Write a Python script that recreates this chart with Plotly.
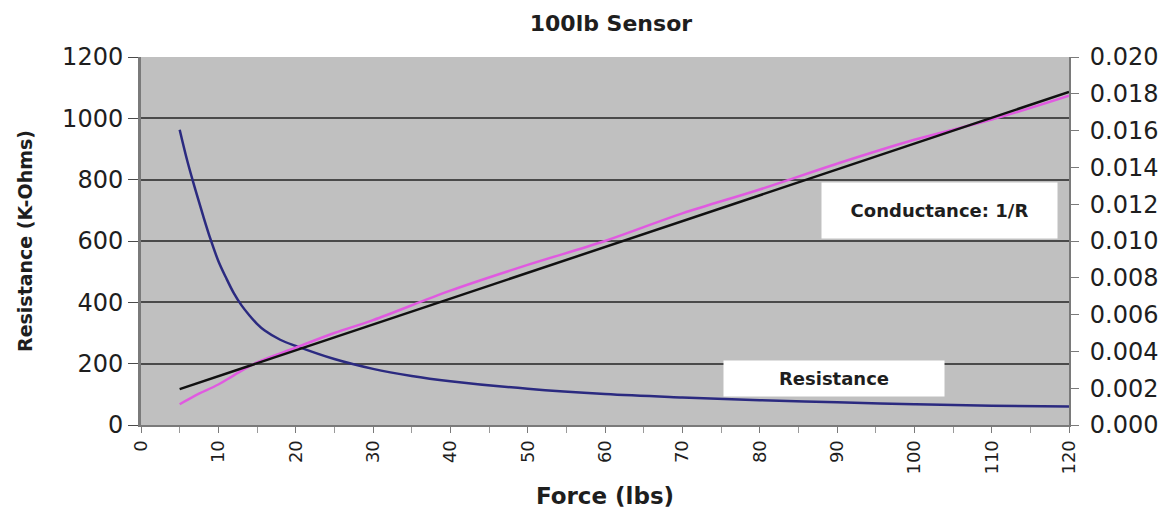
import plotly.graph_objects as go

# Resistance curve (K-Ohms) vs force (lbs)
force_r = [5, 6, 7, 8, 9, 10, 11, 12, 13, 14, 15, 16, 18, 20, 25, 30, 35, 40, 50, 60, 70, 80, 90, 100, 110, 120]
resistance = [963, 860, 770, 685, 605, 535, 480, 430, 390, 358, 330, 308, 278, 258, 215, 183, 160, 143, 118, 101,
              90, 81, 74, 68, 63, 60]

# Conductance (1/R) measured
force_g = [5, 7, 10, 12, 15, 20, 25, 30, 40, 50, 60, 70, 80, 90, 100, 110, 120]
conductance = [0.00113, 0.0016, 0.0022, 0.0027, 0.0034, 0.0042, 0.0050, 0.0057, 0.0073, 0.0087,
               0.0100, 0.0115, 0.0128, 0.0142, 0.0155, 0.0166, 0.0179]

# Linear fit of conductance
fit_force = [5, 120]
fit_conductance = [0.00195, 0.0181]

x_ticks = list(range(0, 121, 10))
y_left_ticks = list(range(0, 1201, 200))
y_right_ticks = [0.000, 0.002, 0.004, 0.006, 0.008, 0.010, 0.012, 0.014, 0.016, 0.018, 0.020]

FONT = "DejaVu Sans"
TXT = "#1e1e1e"

fig = go.Figure()
fig.add_trace(go.Scatter(x=force_r, y=resistance, mode="lines", line=dict(color="#2b2a80", width=2.5, shape="spline"),
                         name="Resistance", yaxis="y"))
fig.add_trace(go.Scatter(x=force_g, y=conductance, mode="lines", line=dict(color="#e05ae0", width=2.5, shape="spline"),
                         name="Conductance", yaxis="y2"))
fig.add_trace(go.Scatter(x=fit_force, y=fit_conductance, mode="lines", line=dict(color="#111111", width=2.5),
                         name="Fit", yaxis="y2"))

fig.update_layout(
    width=1173, height=512,
    paper_bgcolor="white", plot_bgcolor="#c0c0c0",
    margin=dict(l=133, r=112, t=49, b=95, autoexpand=False),
    showlegend=False,
    font=dict(family=FONT, color=TXT),
    title=dict(text="<b>100lb Sensor</b>", x=0.514, xanchor="center", xref="container",
               y=0.971, yanchor="middle", yref="container",
               font=dict(family=FONT, size=22, color=TXT)),
    xaxis=dict(range=[0, 120], tickvals=x_ticks, tickangle=-90, showgrid=False, zeroline=False,
               showline=True, linecolor="#7a7a7a", linewidth=2,
               ticks="outside", ticklen=6, tickcolor="#7a7a7a",
               minor=dict(dtick=5, ticks="outside", ticklen=6, tickcolor="#9a9a9a"),
               tickfont=dict(family=FONT, size=18, color=TXT),
               title=dict(text="<b>Force (lbs)</b>", font=dict(family=FONT, size=23, color=TXT), standoff=14)),
    yaxis=dict(range=[0, 1200], tickvals=y_left_ticks, showgrid=True, gridcolor="#4a4a4a", gridwidth=1.5,
               zeroline=False, showline=True, linecolor="#7a7a7a", linewidth=3,
               ticks="outside", ticklen=10, tickcolor="#4a4a4a",
               tickfont=dict(family=FONT, size=24, color=TXT),
               title=dict(text="<b>Resistance (K-Ohms)</b>", font=dict(family=FONT, size=19, color=TXT), standoff=25)),
    yaxis2=dict(range=[0, 0.020], tickvals=y_right_ticks, tickformat=".3f", overlaying="y", side="right",
                showgrid=False, zeroline=False, showline=True, linecolor="#7a7a7a", linewidth=2,
                ticks="outside", ticklen=8, tickcolor="#7a7a7a", ticklabelstandoff=6,
                tickfont=dict(family=FONT, size=24, color=TXT)),
)

fig.add_annotation(x=103.3, y=698, xref="x", yref="y", text="<b>Conductance: 1/R</b>", showarrow=False,
                   bgcolor="white", width=235, height=55, borderpad=0,
                   font=dict(family=FONT, size=18, color=TXT))
fig.add_annotation(x=89.6, y=152, xref="x", yref="y", text="<b>Resistance</b>", showarrow=False,
                   bgcolor="white", width=220, height=35, borderpad=0,
                   font=dict(family=FONT, size=18, color=TXT))

fig.write_html("out.html")
